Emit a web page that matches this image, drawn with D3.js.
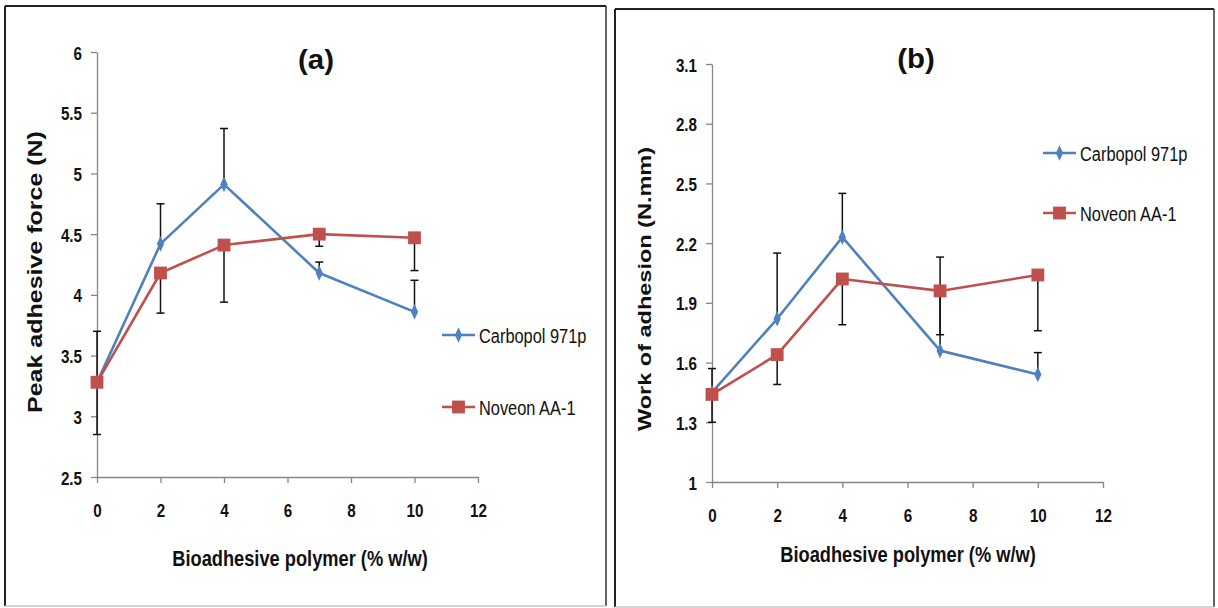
<!DOCTYPE html>
<html>
<head>
<meta charset="utf-8">
<script src="https://cdn.jsdelivr.net/npm/d3@7/dist/d3.min.js"></script>
<style>
  html, body { margin: 0; padding: 0; background: #fff; }
  svg { display: block; }
  text { font-family: "Liberation Sans", Arial, Helvetica, sans-serif; fill: #111; }
</style>
</head>
<body>
<svg id="chart" width="1218" height="608"></svg>
<script>
// ---------- DATA ----------
const xValues = [0, 2, 4, 7, 10];
const xTicks = [0, 2, 4, 6, 8, 10, 12];
const seriesNames = ["Carbopol 971p", "Noveon AA-1"];

const forceTicks = [2.5, 3, 3.5, 4, 4.5, 5, 5.5, 6];
const forceCarbopol = [3.28, 4.42, 4.91, 4.18, 3.86];
const forceCarbopolErr = [0.42, 0.33, 0.46, 0.09, 0.26];   // drawn upward
const forceNoveon = [3.28, 4.18, 4.41, 4.50, 4.47];
const forceNoveonErr = [0.43, 0.33, 0.47, 0.10, 0.27];     // drawn downward

const workTicks = [1, 1.3, 1.6, 1.9, 2.2, 2.5, 2.8, 3.1];
const workCarbopol = [1.45, 1.82, 2.23, 1.66, 1.54];
const workCarbopolErr = [0.12, 0.33, 0.22, 0.47, 0.11];    // drawn upward
const workNoveon = [1.44, 1.64, 2.02, 1.96, 2.04];
const workNoveonErr = [0.14, 0.15, 0.23, 0.22, 0.28];      // drawn downward

// ---------- STYLE / LAYOUT ----------
const BLUE = "#4F81BD", RED = "#C0504D", AXIS = "#868686";

const panels = [
  {
    title: "(a)", ylabel: "Peak adhesive force (N)", xlabel: "Bioadhesive polymer (% w/w)",
    yTicks: forceTicks, yDomain: [2.5, 6],
    carb: forceCarbopol, carbErr: forceCarbopolErr, nov: forceNoveon, novErr: forceNoveonErr,
    left: 97, right: 478, bottom: 477, top: 52,
    border: { x0: 5, y0: 6, x1: 606, y1: 606 },
    titlePos: [316, 69], ylabPos: [42, 272], xlabPos: [300, 566], ylabSize: 25,
    legend: { x: 442, line: 33, textX: 479, y1: 335, y2: 407 }
  },
  {
    title: "(b)", ylabel: "Work of adhesion (N.mm)", xlabel: "Bioadhesive polymer (% w/w)",
    yTicks: workTicks, yDomain: [1, 3.1],
    carb: workCarbopol, carbErr: workCarbopolErr, nov: workNoveon, novErr: workNoveonErr,
    left: 712, right: 1103, bottom: 482, top: 64,
    border: { x0: 615, y0: 9, x1: 1214, y1: 607 },
    titlePos: [916, 68], ylabPos: [651, 289], xlabPos: [908, 562], ylabSize: 23.5,
    legend: { x: 1043, line: 33, textX: 1080, y1: 153, y2: 213 }
  }
];

const svg = d3.select("#chart");

panels.forEach(p => {
  const g = svg.append("g");
  const b = p.border;
  // panel frame
  g.append("line").attr("x1", b.x0).attr("y1", b.y0).attr("x2", b.x1).attr("y2", b.y0).attr("stroke", "#222").attr("stroke-width", 2);
  g.append("line").attr("x1", b.x0).attr("y1", b.y0).attr("x2", b.x0).attr("y2", b.y1).attr("stroke", "#222").attr("stroke-width", 2);
  g.append("line").attr("x1", b.x1).attr("y1", b.y0).attr("x2", b.x1).attr("y2", b.y1).attr("stroke", "#333").attr("stroke-width", 1.5);
  g.append("line").attr("x1", b.x0).attr("y1", b.y1).attr("x2", b.x1).attr("y2", b.y1).attr("stroke", "#c8c8c8").attr("stroke-width", 1.5);

  const x = d3.scaleLinear().domain([0, 12]).range([p.left, p.right]);
  const y = d3.scaleLinear().domain(p.yDomain).range([p.bottom, p.top]);

  // axes
  const yAxis = g.append("g").attr("transform", `translate(${p.left},0)`)
    .call(d3.axisLeft(y).tickValues(p.yTicks).tickSize(6).tickSizeOuter(0).tickFormat(d => String(d)));
  const xAxis = g.append("g").attr("transform", `translate(0,${p.bottom})`)
    .call(d3.axisBottom(x).tickValues(xTicks).tickSize(6).tickSizeOuter(0).tickFormat(d => String(d)));
  [yAxis, xAxis].forEach(a => {
    a.attr("font-size", null).attr("font-family", null);
    a.select(".domain").attr("stroke", AXIS).attr("stroke-width", 1.3);
    a.selectAll(".tick line").attr("stroke", AXIS).attr("stroke-width", 1.3);
    a.selectAll(".tick text").attr("fill", "#111").style("font-size", "19px").style("font-weight", "bold");
  });
  yAxis.selectAll(".tick text").attr("x", null).attr("dy", null)
    .attr("transform", `translate(-15,7) scale(0.8,1)`).attr("text-anchor", "end");
  xAxis.selectAll(".tick text").attr("y", null).attr("dy", null)
    .attr("transform", `translate(0,40) scale(0.8,1)`).attr("text-anchor", "middle");

  // error bars (Carbopol upward, Noveon downward)
  const cap = 4;
  const errG = g.append("g").attr("stroke", "#111").attr("stroke-width", 1.5);
  xValues.forEach((xv, i) => {
    const cx = x(xv);
    const yc0 = y(p.carb[i]), yc1 = y(p.carb[i] + p.carbErr[i]);
    errG.append("line").attr("x1", cx).attr("x2", cx).attr("y1", yc0).attr("y2", yc1);
    errG.append("line").attr("x1", cx - cap).attr("x2", cx + cap).attr("y1", yc1).attr("y2", yc1);
    const yn0 = y(p.nov[i]), yn1 = y(p.nov[i] - p.novErr[i]);
    errG.append("line").attr("x1", cx).attr("x2", cx).attr("y1", yn0).attr("y2", yn1);
    errG.append("line").attr("x1", cx - cap).attr("x2", cx + cap).attr("y1", yn1).attr("y2", yn1);
  });

  const line = d3.line().x(d => x(d[0])).y(d => y(d[1]));
  const series = [
    { vals: p.carb, color: BLUE, sym: d3.symbolDiamond, size: 70 },
    { vals: p.nov, color: RED, sym: d3.symbolSquare, size: 165 }
  ];
  series.forEach(s => {
    const pts = xValues.map((xv, i) => [xv, s.vals[i]]);
    g.append("path").datum(pts).attr("d", line).attr("fill", "none")
      .attr("stroke", s.color).attr("stroke-width", 2.6).attr("stroke-linejoin", "round");
    g.selectAll(null).data(pts).enter().append("path")
      .attr("d", d3.symbol().type(s.sym).size(s.size))
      .attr("transform", d => `translate(${x(d[0])},${y(d[1])})${s.sym === d3.symbolDiamond ? " scale(0.8,1)" : ""}`)
      .attr("fill", s.color);
  });

  // legend
  const L = p.legend;
  [[L.y1, series[0], seriesNames[0]], [L.y2, series[1], seriesNames[1]]].forEach(([ly, s, name]) => {
    g.append("line").attr("x1", L.x).attr("x2", L.x + L.line).attr("y1", ly).attr("y2", ly)
      .attr("stroke", s.color).attr("stroke-width", 2.6);
    g.append("path").attr("d", d3.symbol().type(s.sym).size(s.size))
      .attr("transform", `translate(${L.x + L.line / 2},${ly})${s.sym === d3.symbolDiamond ? " scale(0.8,1)" : ""}`)
      .attr("fill", s.color);
    g.append("text").attr("transform", `translate(${L.textX},${ly + 7.5}) scale(0.78,1)`)
      .style("font-size", "21px").text(name);
  });

  // titles
  g.append("text").attr("transform", `translate(${p.titlePos[0]},${p.titlePos[1]}) scale(1.05,1)`)
    .attr("text-anchor", "middle").style("font-size", "28px").style("font-weight", "bold").text(p.title);
  g.append("text").attr("transform", `translate(${p.xlabPos[0]},${p.xlabPos[1]}) scale(0.83,1)`)
    .attr("text-anchor", "middle").style("font-size", "22px").style("font-weight", "bold").text(p.xlabel);
  g.append("text").attr("transform", `translate(${p.ylabPos[0]},${p.ylabPos[1]}) scale(0.8,1) rotate(-90)`)
    .attr("text-anchor", "middle").style("font-size", `${p.ylabSize}px`).style("font-weight", "bold").text(p.ylabel);
});
</script>
</body>
</html>
